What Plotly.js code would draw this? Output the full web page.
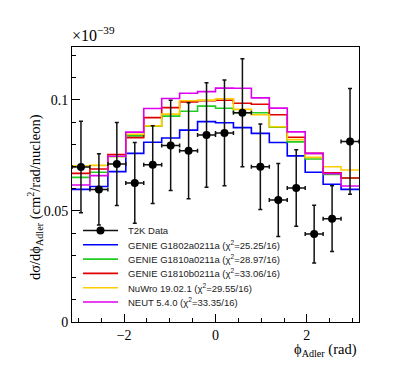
<!DOCTYPE html>
<html>
<head>
<meta charset="utf-8">
<script src="https://cdn.plot.ly/plotly-3.0.1.min.js"></script>
<style>
  html, body { margin: 0; padding: 0; background: #fff; }
  #chart { width: 399px; height: 379px; }
</style>
</head>
<body>
<div id="chart"></div>
<script>
// 16 bins of width pi/8 covering -pi..pi
const nBins = 16;
const binEdges = [];
for (let i = 0; i <= nBins; i++) binEdges.push(-Math.PI + i * Math.PI / 8);
const binCenters = binEdges.slice(0, nBins).map((e, i) => (e + binEdges[i + 1]) / 2);
const binHalf = Math.PI / 16;

// T2K data (units of 1e-39)
const dataY   = [0.0698, 0.0597, 0.0711, 0.0626, 0.0708, 0.0795, 0.0771, 0.0842, 0.0851, 0.0942, 0.0699, 0.0549, 0.0603, 0.0396, 0.0465, 0.0813];
const dataErr = [0.0206, 0.0160, 0.0187, 0.0182, 0.0175, 0.0203, 0.0216, 0.0235, 0.0238, 0.0243, 0.0192, 0.0164, 0.0172, 0.0130, 0.0148, 0.0238];

// generator predictions
const genie1802a = [0.0597, 0.0610, 0.0677, 0.0759, 0.0809, 0.0828, 0.0864, 0.0902, 0.0897, 0.0875, 0.0849, 0.0808, 0.0748, 0.0674, 0.0620, 0.0597];
const genie1810a = [0.0651, 0.0674, 0.0745, 0.0838, 0.0881, 0.0927, 0.0949, 0.0972, 0.0962, 0.0942, 0.0942, 0.0877, 0.0811, 0.0734, 0.0664, 0.0648];
const genie1810b = [0.0669, 0.0689, 0.0754, 0.0830, 0.0920, 0.0965, 0.0991, 0.0996, 0.0998, 0.0985, 0.0980, 0.0933, 0.0832, 0.0759, 0.0672, 0.0648];
const nuwro      = [0.0703, 0.0705, 0.0745, 0.0845, 0.0883, 0.0936, 0.0996, 0.0999, 0.1005, 0.0957, 0.0933, 0.0879, 0.0821, 0.0741, 0.0699, 0.0684];
const neut       = [0.0617, 0.0659, 0.0746, 0.0855, 0.0961, 0.1006, 0.1030, 0.1037, 0.1053, 0.1052, 0.1009, 0.0963, 0.0856, 0.0759, 0.0668, 0.0612];

const modelNames = [
  'GENIE G1802a0211a (χ<sup>2</sup>=25.25/16)',
  'GENIE G1810a0211a (χ<sup>2</sup>=28.97/16)',
  'GENIE G1810b0211a (χ<sup>2</sup>=33.06/16)',
  'NuWro 19.02.1 (χ<sup>2</sup>=29.55/16)',
  'NEUT 5.4.0 (χ<sup>2</sup>=33.35/16)'
];
const modelValues = [genie1802a, genie1810a, genie1810b, nuwro, neut];
const modelColors = ['#0000ff', '#22cc22', '#e00000', '#ffcc00', '#dd00ee'];
const dataName = 'T2K Data';

const yTickVals = [0, 0.05, 0.1];
const yTickText = ['0', '0.05', '0.1'];
const xTickVals = [-2, 0, 2];
const xTickText = ['−2', '0', '2'];

const traces = [];
modelValues.forEach((vals, k) => {
  traces.push({
    x: binEdges,
    y: vals.concat([vals[vals.length - 1]]),
    type: 'scatter',
    mode: 'lines',
    line: { shape: 'hv', color: modelColors[k], width: 1.6 },
    showlegend: false,
    hoverinfo: 'skip'
  });
});

traces.push({
  x: binCenters,
  y: dataY,
  type: 'scatter',
  mode: 'markers',
  marker: { color: '#000', size: 8 },
  error_y: { type: 'data', array: dataErr, color: '#111', thickness: 1.5, width: 2 },
  error_x: { type: 'constant', value: binHalf, color: '#111', thickness: 1.5, width: 2 },
  showlegend: false
});

// hand-made legend (ROOT-like compact rows)
const plotL = 72, plotT = 47, plotW = 287, plotH = 275;
const px = x => (x - plotL) / plotW;
const py = y => (plotT + plotH - y) / plotH;
const legRow0 = 230.5, legStep = 14.3;
const legLineX0 = 83, legLineX1 = 118, legTextX = 126;

const shapes = [];
const annotations = [];
const legLabels = [dataName].concat(modelNames);
const legColors = ['#111'].concat(modelColors);
legLabels.forEach((lab, i) => {
  const yy = legRow0 + i * legStep;
  shapes.push({
    type: 'line', xref: 'paper', yref: 'paper',
    x0: px(legLineX0), x1: px(legLineX1), y0: py(yy), y1: py(yy),
    line: { color: legColors[i], width: i === 0 ? 1.5 : 1.6 }
  });
  annotations.push({
    xref: 'paper', yref: 'paper', x: px(legTextX), y: py(yy),
    xanchor: 'left', yanchor: 'middle', showarrow: false,
    text: lab, font: { family: "'Liberation Sans', Arial, sans-serif", size: 9.5, color: '#222' }
  });
});
// marker of the data legend row
const mx = (legLineX0 + legLineX1) / 2;
shapes.push({
  type: 'circle', xref: 'paper', yref: 'paper',
  x0: px(mx - 4), x1: px(mx + 4), y0: py(legRow0 - 4), y1: py(legRow0 + 4),
  fillcolor: '#000', line: { color: '#000', width: 0 }
});

const serif = "'Liberation Serif', 'Times New Roman', serif";

annotations.push({
  xref: 'paper', yref: 'paper', x: px(70), y: py(46), xanchor: 'left', yanchor: 'bottom',
  showarrow: false, text: '×10<sup>−39</sup>', font: { family: serif, size: 16, color: '#000' }
});
annotations.push({
  xref: 'paper', yref: 'paper', x: px(35), y: py(197), xanchor: 'center', yanchor: 'middle',
  textangle: -90, showarrow: false,
  text: 'dσ/dϕ<sub>Adler</sub> (cm<sup>2</sup>/rad/nucleon)', font: { family: serif, size: 14.5, color: '#000' }
});
annotations.push({
  xref: 'paper', yref: 'paper', x: px(359), y: py(350), xanchor: 'right', yanchor: 'middle',
  showarrow: false, text: 'ϕ<sub>Adler</sub> (rad)', font: { family: serif, size: 14.5, color: '#000' }
});

const layout = {
  width: 399, height: 379,
  margin: { l: 72, r: 40, t: 47, b: 57 },
  paper_bgcolor: '#fff', plot_bgcolor: '#fff',
  showlegend: false,
  xaxis: {
    range: [-Math.PI, Math.PI],
    tickmode: 'array', tickvals: xTickVals, ticktext: xTickText,
    ticks: 'inside', ticklen: 8, tickcolor: '#000', tickwidth: 1,
    minor: { ticks: 'inside', ticklen: 4, dtick: 0.5, tick0: 0, tickcolor: '#000' },
    showgrid: false, zeroline: false,
    showline: true, mirror: true, linecolor: '#000', linewidth: 1,
    tickfont: { family: serif, size: 14, color: '#000' }
  },
  yaxis: {
    range: [0, 0.1238],
    tickmode: 'array', tickvals: yTickVals, ticktext: yTickText,
    ticks: 'inside', ticklen: 8, tickcolor: '#000', tickwidth: 1,
    minor: { ticks: 'inside', ticklen: 4, dtick: 0.01, tick0: 0, tickcolor: '#000' },
    showgrid: false, zeroline: false,
    showline: true, mirror: true, linecolor: '#000', linewidth: 1,
    tickfont: { family: serif, size: 14, color: '#000' }
  },
  shapes: shapes,
  annotations: annotations
};

Plotly.newPlot('chart', traces, layout, { displayModeBar: false, staticPlot: true });
</script>
</body>
</html>
